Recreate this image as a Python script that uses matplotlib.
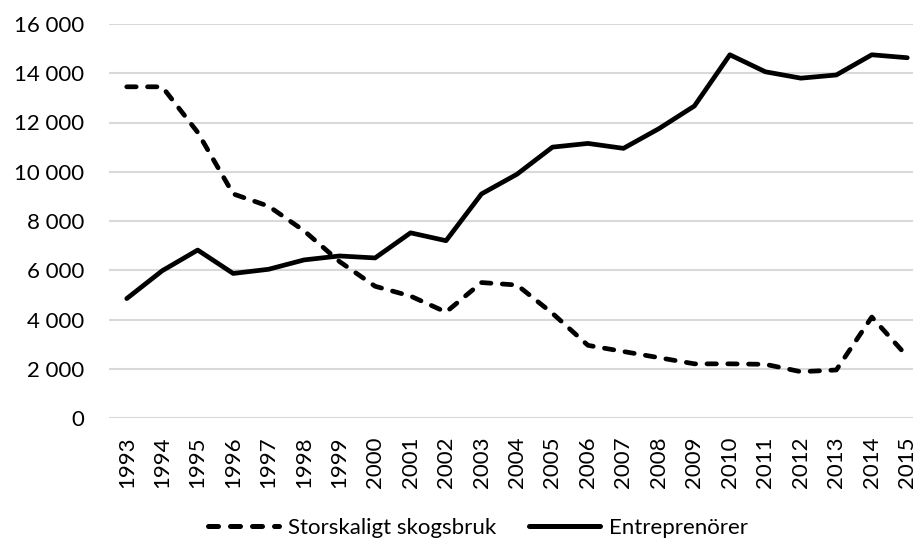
import matplotlib
matplotlib.use('Agg')
import matplotlib.pyplot as plt
import numpy as np
from matplotlib.lines import Line2D

plt.rcParams['font.family'] = ['Lato', 'DejaVu Sans']

years = [str(y) for y in range(1993, 2016)]
storskaligt = [13450, 13450, 11600, 9100, 8600, 7600, 6350, 5350, 4950, 4300,
               5500, 5400, 4250, 2950, 2700, 2450, 2200, 2200, 2180, 1880,
               1950, 4100, 2500]
entreprenorer = [4850, 5980, 6820, 5870, 6040, 6420, 6580, 6500, 7520, 7200,
                 9100, 9900, 11000, 11150, 10950, 11750, 12670, 14750, 14060, 13800,
                 13930, 14750, 14630]
yticks = np.arange(0, 16001, 2000)

fig = plt.figure(figsize=(9.13, 5.43), dpi=100)
ax = fig.add_axes([109/913, 1-418/543, 816/913, 394/543])

x = np.arange(len(years))
ax.plot(x, storskaligt, color='k', lw=3.4, linestyle=(0, (2.0, 2.4)),
        dash_capstyle='round', dash_joinstyle='round')
ax.plot(x, entreprenorer, color='k', lw=3.4, solid_joinstyle='round', solid_capstyle='round')

ax.set_xlim(-0.5, len(years) - 0.5)
ax.set_ylim(0, 16000)
ax.set_yticks(yticks)
ax.set_yticklabels([f'{v:,}'.replace(',', ' ') for v in yticks])
ax.set_xticks(x)
ax.set_xticklabels(years, rotation=90)
ax.tick_params(axis='y', length=0, pad=18, labelsize=16)
ax.tick_params(axis='x', length=0, pad=13, labelsize=16)
ax.yaxis.grid(True, color='#d9d9d9', lw=1.5)
ax.set_axisbelow(True)
for s in ax.spines.values():
    s.set_visible(False)

handles = [Line2D([], [], color='k', lw=3.6, linestyle=(0, (2.0, 2.4)), dash_capstyle='round'),
           Line2D([], [], color='k', lw=3.6, solid_capstyle='round')]
fig.legend(handles, ['Storskaligt skogsbruk', 'Entreprenörer'], loc='center',
           bbox_to_anchor=(478/913, 1-528/543), ncol=2, frameon=False,
           fontsize=16, handlelength=3.2, columnspacing=1.5, handletextpad=0.4)

fig.savefig('out.png', dpi=100)
